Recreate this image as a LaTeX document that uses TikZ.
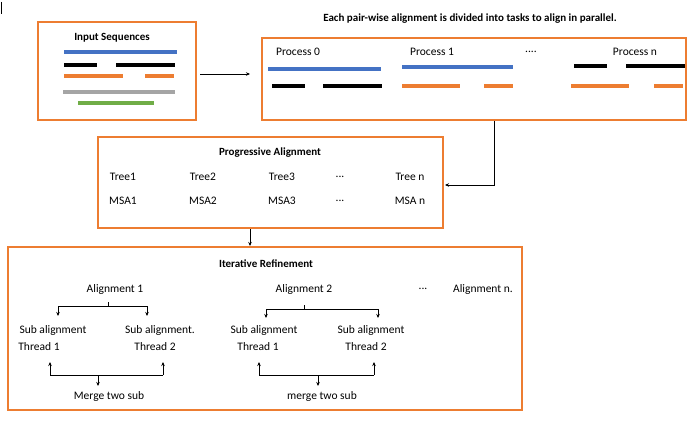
\documentclass[tikz,border=0pt]{standalone}
\usepackage{fontspec}
\setmainfont{Carlito}
\usetikzlibrary{arrows.meta}
\definecolor{org}{RGB}{237,125,49}
\definecolor{blu}{RGB}{68,114,196}
\definecolor{gry}{RGB}{165,165,165}
\definecolor{grn}{RGB}{112,173,71}
\begin{document}
\begin{tikzpicture}[x=1pt,y=-1pt,
  box/.style={draw=org,line width=2pt,fill=none},
  bar/.style={line width=3.5pt},
  lbl/.style={font=\fontsize{11.5}{13}\selectfont,inner sep=0pt},
  ttl/.style={font=\bfseries\fontsize{11}{13}\selectfont,inner sep=0pt},
  arr/.style={-{Stealth[length=4pt,width=3.5pt]},line width=0.8pt},
  ln/.style={line width=0.8pt}]
\useasboundingbox (0,0) rectangle (695,422);
\draw[line width=0.8pt] (1,2) -- (1,14);
% box1
\draw[box] (38,22) rectangle (196,120);
\node[ttl] (t1) at (112,38) {Input Sequences};
\draw[bar,blu] (64,52) -- (177,52);
\draw[bar,black] (64,65) -- (97,65) (116,65) -- (175,65);
\draw[bar,org] (64,76) -- (123,76) (145,76) -- (174,76);
\draw[bar,gry] (63,92) -- (175,92);
\draw[bar,grn] (78,103) -- (154,103);
% box2
\node[ttl] (top) at (470,19) {Each pair-wise alignment is divided into tasks to align in parallel.};
\draw[box] (262,38) rectangle (686,120);
\coordinate (b1e) at (196,74); \coordinate (b2w) at (262,74);
\node[lbl] (p0) at (298,52) {Process 0};
\node[lbl] (p1) at (432,52) {Process 1};
\node[lbl] (pd) at (531,52) {....};
\node[lbl] (pn) at (635,52) {Process n};
\draw[bar,blu] (268,69) -- (381,69) (402,67) -- (513,67);
\draw[bar,black] (574,66) -- (607,66) (626,66) -- (685,66);
\draw[bar,black] (272,86) -- (305,86) (323,86) -- (382,86);
\draw[bar,org] (402,86) -- (460,86) (484,86) -- (513,86);
\draw[bar,org] (571,86) -- (629,86) (654,86) -- (683,86);
\draw[arr] ([xshift=4pt]b1e) -- ([xshift=-12pt]b2w);
% box3
\draw[box] (98,137) rectangle (443,228);
\coordinate (b2s) at (494,121); \coordinate (b3e) at (445,185);
\draw[arr] (b2s) |- (b3e);
\node[ttl] (t3) at (270,153) {Progressive Alignment};
\foreach \x/\a/\b in {123/Tree1/MSA1,203/Tree2/MSA2,282/Tree3/MSA3,410/Tree n/MSA n}
  {\node[lbl] at (\x,177) {\a}; \node[lbl] at (\x,201) {\b};}
\node[lbl] (d1) at (340,177) {...};
\node[lbl] (d2) at (340,201) {...};
% box4
\draw[box] (8,247) rectangle (522,410);
\coordinate (b3s) at (250,229); \coordinate (b4n) at (250,246);
\draw[arr] (b3s) -- (b4n);
\node[ttl] (t4) at (266,264) {Iterative Refinement};
\node[lbl] (a1) at (115,289) {Alignment 1};
\node[lbl] (a2) at (304,289) {Alignment 2};
\node[lbl] (ad) at (423,289) {...};
\node[lbl] (an) at (483,289) {Alignment n.};
\foreach \L/\R/\M/\y/\ya/\lx/\rx/\m/\mx/\txt in
  {58/147/108/306/316/50/163/98/109/Merge two sub,
   266/378/304/309/318/259/374/318/322/merge two sub}{
  \draw[ln] (\M,\y-4) -- (\M,\y);
  \draw[ln] (\L,\y) -- (\R,\y);
  \draw[arr] (\L,\y) -- (\L,\ya);
  \draw[arr] (\R,\y) -- (\R,\ya);
  \draw[ln] (\lx,375) -- (\rx,375);
  \draw[arr] (\lx,375) -- (\lx,362);
  \draw[arr] (\rx,375) -- (\rx,362);
  \draw[arr] (\m,375) -- (\m,386);
  \node[lbl] at (\mx,396) {\txt};
}
\node[lbl] (s1) at (53,330) {Sub alignment};
\node[lbl] (s2) at (160,330) {Sub alignment.};
\node[lbl] (s3) at (264,330) {Sub alignment};
\node[lbl] (s4) at (371,330) {Sub alignment};
\node[lbl] at (39,347) {Thread 1};
\node[lbl] at (155,347) {Thread 2};
\node[lbl] at (258,347) {Thread 1};
\node[lbl] at (366,347) {Thread 2};
\end{tikzpicture}
\end{document}
